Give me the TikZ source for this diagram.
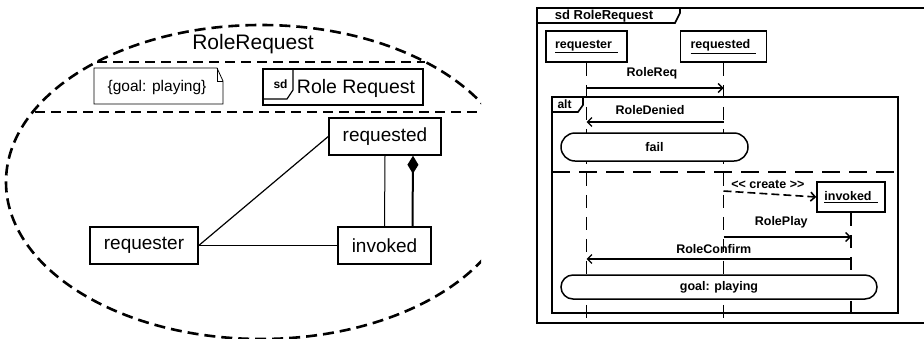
\documentclass[tikz,border=0pt]{standalone}
\usepackage{fontspec}
\setmainfont{Liberation Sans}
\usetikzlibrary{arrows.meta}
\begin{document}
\begin{tikzpicture}[x=1pt,y=-1pt,
  umlbox/.style={draw,line width=1.5pt,inner sep=0pt,minimum height=37pt,font=\fontsize{19}{22}\selectfont},
  seqbox/.style={draw,line width=1.5pt,inner sep=0pt,fill=white,font=\bfseries\fontsize{12.5}{14}\selectfont},
  lbl/.style={inner sep=0pt,font=\bfseries\fontsize{12.5}{14}\selectfont},
  lifeline/.style={line width=1.8pt,dash pattern=on 13pt off 9pt},
  msg/.style={line width=1.3pt,-{Straight Barb[length=4.5pt,width=9pt]}},
  statebox/.style={draw,line width=1.5pt,fill=white,inner sep=0pt,font=\bfseries\fontsize{12.5}{14}\selectfont},
  framel/.style={line width=1.6pt},
  bigdash/.style={line width=2.6pt,dash pattern=on 11pt off 6pt}
]
\useasboundingbox (0,0) rectangle (924,338);

% ---------------- left: collaboration ----------------
\begin{scope}
  \clip (0,0) rectangle (481,338);
  \draw[bigdash] (261,182) ellipse [x radius=255, y radius=157];
  \draw[line width=2.2pt,dash pattern=on 10pt off 6pt] (97,62) -- (425,62);
  \draw[line width=2.2pt,dash pattern=on 10pt off 6pt] (35,112) -- (490,112);
\end{scope}

\node[inner sep=0pt,font=\fontsize{21}{24}\selectfont] (title) at (253,44) {RoleRequest};

% note
\draw[line width=0.8pt] (94,68) -- (217,68) -- (223,81) -- (223,104) -- (94,104) -- cycle;
\draw[line width=0.8pt] (217,68) -- (217,81) -- (223,81);
\node[inner sep=0pt,font=\fontsize{15.5}{18}\selectfont] (note) at (157,87) {\{goal: playing\}};

% sd reference
\node[draw,line width=1.2pt,inner sep=0pt,minimum width=160pt,minimum height=36pt] (sdref) at (343,87) {};
\draw[line width=1.2pt] (263,99) -- (287,99) -- (293,90) -- (293,69);
\node[inner sep=0pt,font=\bfseries\fontsize{12}{14}\selectfont] (sdlbl) at (280.5,84) {sd};
\node[inner sep=0pt,font=\fontsize{19.5}{22}\selectfont] (sdname) at (356,88) {Role Request};

% roles
\node[umlbox,minimum width=112pt] (requested) at (385,136.5) {requested};
\node[umlbox,minimum width=108pt] (requester) at (144,245.5) {requester};
\node[umlbox,minimum width=93pt] (invoked) at (384.5,245.5) {invoked};

\draw[line width=1.2pt] (requester.east) -- (requested.west);
\draw[line width=1pt] (requester.east) -- (invoked.west);
\draw[line width=1pt] (requested.south) -- (invoked.north);
\draw[line width=2pt,{Diamond[length=18pt,width=11pt]}-] ([xshift=28pt]requested.south) -- ([xshift=28pt]invoked.north);

% ---------------- right: sequence diagram ----------------
\draw[framel] (930,8) -- (537,8) -- (537,323) -- (930,323);
\draw[framel] (537,23) -- (675,23) -- (680,13) -- (680,8);
\node[lbl,font=\bfseries\fontsize{13}{15}\selectfont] (sdtitle) at (604,16) {sd RoleRequest};

\node[seqbox,minimum width=81pt,minimum height=31pt] (rq) at (586.5,46.5) {\underline{requester\kern6pt}};
\node[seqbox,minimum width=86pt,minimum height=31pt] (rd) at (723.5,46.5) {\underline{requested\kern6pt}};
\node[seqbox,minimum width=68pt,minimum height=30pt] (iv) at (851,197) {\underline{invoked\kern6pt}};

\coordinate (bot) at (0,323);
\draw[lifeline] (rq.south) -- (rq.south |- bot);
\draw[lifeline] (rd.south) -- (rd.south |- bot);
\draw[lifeline] (iv.south) -- (iv.south |- bot);

\coordinate (m1) at (0,88);
\coordinate (m2) at (0,122);
\coordinate (m3) at (0,191);
\coordinate (m4) at (0,237);
\coordinate (m5) at (0,259);

\draw[msg] (rq.south |- m1) -- (rd.south |- m1) node[lbl,midway,yshift=15pt,xshift=-3pt] {RoleReq};

% alt fragment
\draw[framel] (552,97) rectangle (898,313);
\draw[framel] (552,112) -- (578,112) -- (583,105) -- (583,97);
\node[lbl,font=\bfseries\fontsize{12}{14}\selectfont] (altlbl) at (564.5,104) {alt};
\draw[line width=2.4pt,dash pattern=on 18pt off 9pt] (552,172) -- (898,172);

\draw[msg] (rd.south |- m2) -- (rq.south |- m2) node[lbl,midway,yshift=12pt,xshift=-5pt] {RoleDenied};
\draw[msg,line width=1.6pt,dash pattern=on 8pt off 4pt] (rd.south |- m3) -- (iv.west) node[lbl,midway,yshift=10pt,xshift=-2pt] {{<}{<} create {>}{>}};
\draw[msg] (rd.south |- m4) -- (iv.south |- m4) node[lbl,midway,yshift=15pt,xshift=-6pt] {RolePlay};
\draw[msg] (iv.south |- m5) -- (rq.south |- m5) node[lbl,midway,yshift=10pt,xshift=-5pt] {RoleConfirm};

\node[statebox,minimum width=187pt,minimum height=28pt,rounded corners=14pt] (fail) at (654.5,147) {fail};
\node[statebox,minimum width=316pt,minimum height=24pt,rounded corners=12pt] (goal) at (719,287) {goal: playing};
\end{tikzpicture}
\end{document}
